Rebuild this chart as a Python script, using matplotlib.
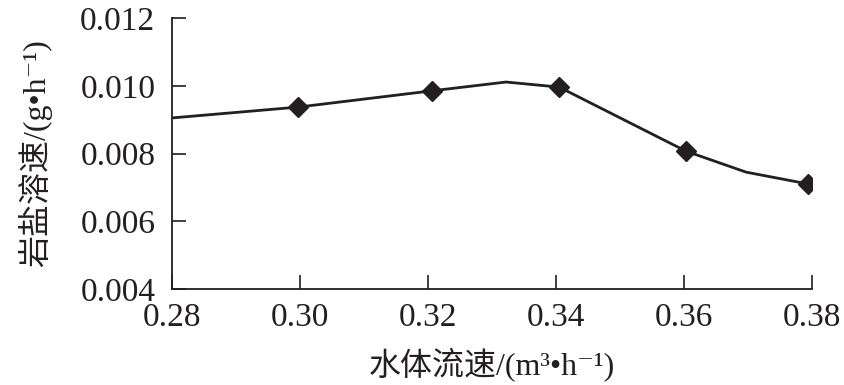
import numpy as np
import matplotlib
matplotlib.use('Agg')
import matplotlib.pyplot as plt

# western glyphs from the serif faces, Chinese falls back to Noto CJK
plt.rcParams['font.family'] = ['Liberation Serif', 'DejaVu Serif', 'Noto Sans CJK SC']

# line vertices
flow = [0.28, 0.2997, 0.3206, 0.3322, 0.3405, 0.3603, 0.3697, 0.3794]
rate = [0.00905, 0.00937, 0.00985, 0.01011, 0.00996, 0.00807, 0.00745, 0.0071]
# measured points with markers
mark_flow = [0.2997, 0.3206, 0.3405, 0.3603, 0.3794]
mark_rate = [0.00937, 0.00985, 0.00996, 0.00807, 0.0071]

xticks = [0.28, 0.30, 0.32, 0.34, 0.36, 0.38]
yticks = [0.004, 0.006, 0.008, 0.010, 0.012]

fig = plt.figure(figsize=(8.45, 3.85), dpi=100)
ax = fig.add_axes([172/845, 1-289/385, 640/845, 271/385])

ax.plot(flow, rate, color='#231f20', lw=2)
ax.plot(mark_flow, mark_rate, ls='none', marker='D', ms=10.5, color='#231f20')

ax.set_xlim(0.28, 0.38)
ax.set_ylim(0.004, 0.012)
ax.set_xticks(xticks)
ax.set_yticks(yticks)
ax.set_xticklabels(['%.2f' % v for v in xticks], fontsize=24)
ax.set_yticklabels(['%.3f' % v for v in yticks], fontsize=24)
ax.tick_params(direction='in', length=10, width=1.2, color='#231f20', labelcolor='#231f20')
ax.tick_params(axis='y', pad=12)
ax.tick_params(axis='x', pad=10)

for s in ['top', 'right']:
    ax.spines[s].set_visible(False)
for s in ['left', 'bottom']:
    ax.spines[s].set_linewidth(1.3)
    ax.spines[s].set_color('#231f20')

ax.set_xlabel('水体流速/(m³•h⁻¹)', fontsize=23, labelpad=10, color='#231f20')
ax.set_ylabel('岩盐溶速/(g•h⁻¹)', fontsize=23, labelpad=20, color='#231f20')

fig.savefig('out.png', dpi=100)
